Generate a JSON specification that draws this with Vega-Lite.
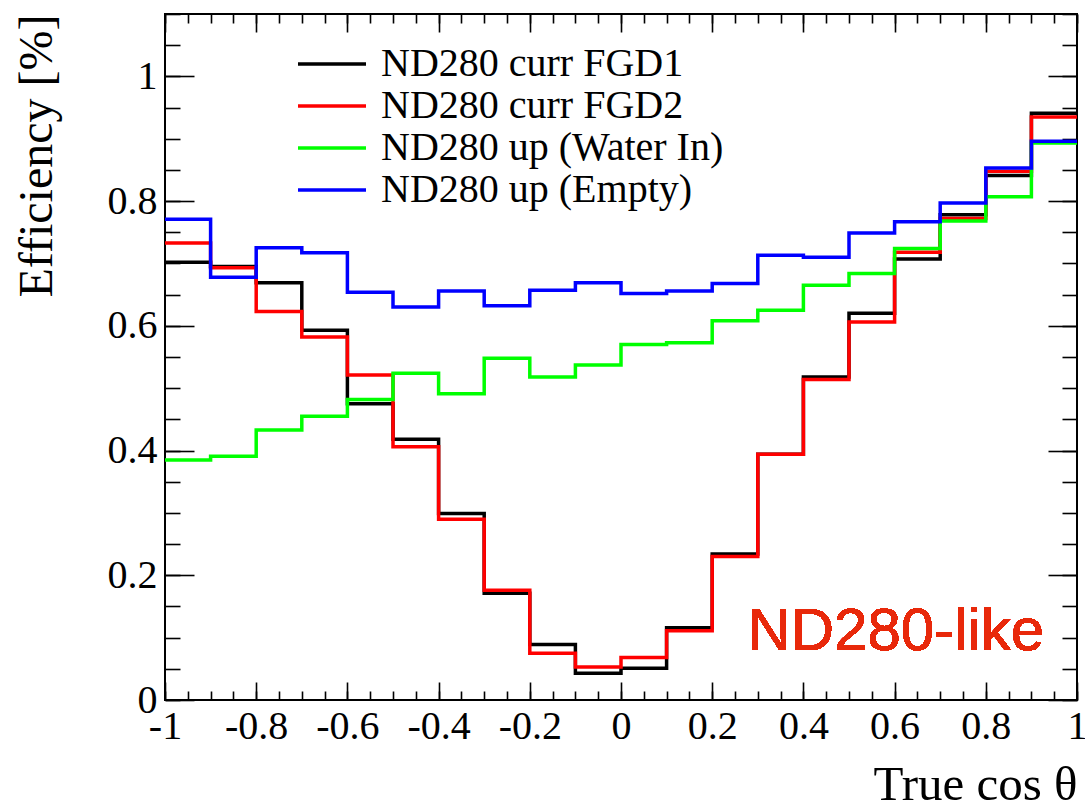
{
  "$schema": "https://vega.github.io/schema/vega-lite/v6.json",
  "width": 912,
  "height": 686,
  "autosize": {"type": "none"},
  "padding": {"left": 165, "top": 14, "right": 8, "bottom": 102},
  "background": "white",
  "config": {
    "view": {"stroke": "#000000", "strokeWidth": 2},
    "axis": {"grid": false, "domain": false, "labelFont": "Liberation Serif", "titleFont": "Liberation Serif", "labelColor": "#000", "titleColor": "#000", "titleFontWeight": "normal", "tickColor": "#000", "tickWidth": 1.6, "labelFlush": false, "labelOverlap": false}
  },
  "data": {"values": [
    {"cos": -1.0, "eff": 0.702, "series": "ND280 curr FGD1"},
    {"cos": -0.9, "eff": 0.695, "series": "ND280 curr FGD1"},
    {"cos": -0.8, "eff": 0.669, "series": "ND280 curr FGD1"},
    {"cos": -0.7, "eff": 0.593, "series": "ND280 curr FGD1"},
    {"cos": -0.6, "eff": 0.475, "series": "ND280 curr FGD1"},
    {"cos": -0.5, "eff": 0.418, "series": "ND280 curr FGD1"},
    {"cos": -0.4, "eff": 0.299, "series": "ND280 curr FGD1"},
    {"cos": -0.3, "eff": 0.171, "series": "ND280 curr FGD1"},
    {"cos": -0.2, "eff": 0.089, "series": "ND280 curr FGD1"},
    {"cos": -0.1, "eff": 0.043, "series": "ND280 curr FGD1"},
    {"cos": 0.0, "eff": 0.051, "series": "ND280 curr FGD1"},
    {"cos": 0.1, "eff": 0.116, "series": "ND280 curr FGD1"},
    {"cos": 0.2, "eff": 0.234, "series": "ND280 curr FGD1"},
    {"cos": 0.3, "eff": 0.394, "series": "ND280 curr FGD1"},
    {"cos": 0.4, "eff": 0.518, "series": "ND280 curr FGD1"},
    {"cos": 0.5, "eff": 0.620, "series": "ND280 curr FGD1"},
    {"cos": 0.6, "eff": 0.707, "series": "ND280 curr FGD1"},
    {"cos": 0.7, "eff": 0.778, "series": "ND280 curr FGD1"},
    {"cos": 0.8, "eff": 0.841, "series": "ND280 curr FGD1"},
    {"cos": 0.9, "eff": 0.941, "series": "ND280 curr FGD1"},
    {"cos": 1.0, "eff": 0.941, "series": "ND280 curr FGD1"},
    {"cos": -1.0, "eff": 0.733, "series": "ND280 curr FGD2"},
    {"cos": -0.9, "eff": 0.693, "series": "ND280 curr FGD2"},
    {"cos": -0.8, "eff": 0.623, "series": "ND280 curr FGD2"},
    {"cos": -0.7, "eff": 0.582, "series": "ND280 curr FGD2"},
    {"cos": -0.6, "eff": 0.521, "series": "ND280 curr FGD2"},
    {"cos": -0.5, "eff": 0.406, "series": "ND280 curr FGD2"},
    {"cos": -0.4, "eff": 0.290, "series": "ND280 curr FGD2"},
    {"cos": -0.3, "eff": 0.176, "series": "ND280 curr FGD2"},
    {"cos": -0.2, "eff": 0.075, "series": "ND280 curr FGD2"},
    {"cos": -0.1, "eff": 0.053, "series": "ND280 curr FGD2"},
    {"cos": 0.0, "eff": 0.068, "series": "ND280 curr FGD2"},
    {"cos": 0.1, "eff": 0.111, "series": "ND280 curr FGD2"},
    {"cos": 0.2, "eff": 0.230, "series": "ND280 curr FGD2"},
    {"cos": 0.3, "eff": 0.394, "series": "ND280 curr FGD2"},
    {"cos": 0.4, "eff": 0.514, "series": "ND280 curr FGD2"},
    {"cos": 0.5, "eff": 0.606, "series": "ND280 curr FGD2"},
    {"cos": 0.6, "eff": 0.718, "series": "ND280 curr FGD2"},
    {"cos": 0.7, "eff": 0.772, "series": "ND280 curr FGD2"},
    {"cos": 0.8, "eff": 0.848, "series": "ND280 curr FGD2"},
    {"cos": 0.9, "eff": 0.935, "series": "ND280 curr FGD2"},
    {"cos": 1.0, "eff": 0.935, "series": "ND280 curr FGD2"},
    {"cos": -1.0, "eff": 0.385, "series": "ND280 up (Water In)"},
    {"cos": -0.9, "eff": 0.391, "series": "ND280 up (Water In)"},
    {"cos": -0.8, "eff": 0.433, "series": "ND280 up (Water In)"},
    {"cos": -0.7, "eff": 0.455, "series": "ND280 up (Water In)"},
    {"cos": -0.6, "eff": 0.482, "series": "ND280 up (Water In)"},
    {"cos": -0.5, "eff": 0.524, "series": "ND280 up (Water In)"},
    {"cos": -0.4, "eff": 0.491, "series": "ND280 up (Water In)"},
    {"cos": -0.3, "eff": 0.548, "series": "ND280 up (Water In)"},
    {"cos": -0.2, "eff": 0.518, "series": "ND280 up (Water In)"},
    {"cos": -0.1, "eff": 0.537, "series": "ND280 up (Water In)"},
    {"cos": 0.0, "eff": 0.570, "series": "ND280 up (Water In)"},
    {"cos": 0.1, "eff": 0.573, "series": "ND280 up (Water In)"},
    {"cos": 0.2, "eff": 0.608, "series": "ND280 up (Water In)"},
    {"cos": 0.3, "eff": 0.625, "series": "ND280 up (Water In)"},
    {"cos": 0.4, "eff": 0.665, "series": "ND280 up (Water In)"},
    {"cos": 0.5, "eff": 0.684, "series": "ND280 up (Water In)"},
    {"cos": 0.6, "eff": 0.724, "series": "ND280 up (Water In)"},
    {"cos": 0.7, "eff": 0.768, "series": "ND280 up (Water In)"},
    {"cos": 0.8, "eff": 0.807, "series": "ND280 up (Water In)"},
    {"cos": 0.9, "eff": 0.893, "series": "ND280 up (Water In)"},
    {"cos": 1.0, "eff": 0.893, "series": "ND280 up (Water In)"},
    {"cos": -1.0, "eff": 0.771, "series": "ND280 up (Empty)"},
    {"cos": -0.9, "eff": 0.678, "series": "ND280 up (Empty)"},
    {"cos": -0.8, "eff": 0.725, "series": "ND280 up (Empty)"},
    {"cos": -0.7, "eff": 0.717, "series": "ND280 up (Empty)"},
    {"cos": -0.6, "eff": 0.654, "series": "ND280 up (Empty)"},
    {"cos": -0.5, "eff": 0.630, "series": "ND280 up (Empty)"},
    {"cos": -0.4, "eff": 0.656, "series": "ND280 up (Empty)"},
    {"cos": -0.3, "eff": 0.632, "series": "ND280 up (Empty)"},
    {"cos": -0.2, "eff": 0.657, "series": "ND280 up (Empty)"},
    {"cos": -0.1, "eff": 0.669, "series": "ND280 up (Empty)"},
    {"cos": 0.0, "eff": 0.652, "series": "ND280 up (Empty)"},
    {"cos": 0.1, "eff": 0.656, "series": "ND280 up (Empty)"},
    {"cos": 0.2, "eff": 0.668, "series": "ND280 up (Empty)"},
    {"cos": 0.3, "eff": 0.713, "series": "ND280 up (Empty)"},
    {"cos": 0.4, "eff": 0.710, "series": "ND280 up (Empty)"},
    {"cos": 0.5, "eff": 0.749, "series": "ND280 up (Empty)"},
    {"cos": 0.6, "eff": 0.767, "series": "ND280 up (Empty)"},
    {"cos": 0.7, "eff": 0.797, "series": "ND280 up (Empty)"},
    {"cos": 0.8, "eff": 0.853, "series": "ND280 up (Empty)"},
    {"cos": 0.9, "eff": 0.896, "series": "ND280 up (Empty)"},
    {"cos": 1.0, "eff": 0.896, "series": "ND280 up (Empty)"}
  ]},
  "resolve": {"axis": {"x": "independent", "y": "independent"}},
  "layer": [
    {
      "mark": {"type": "line", "interpolate": "step-after", "strokeWidth": 3.5, "strokeCap": "butt", "strokeJoin": "miter", "clip": true},
      "encoding": {
        "x": {"field": "cos", "type": "quantitative", "scale": {"domain": [-1, 1], "nice": false, "zero": false},
          "axis": {"orient": "bottom", "values": [-1, -0.8, -0.6, -0.4, -0.2, 0, 0.2, 0.4, 0.6, 0.8, 1], "labelExpr": "'' + datum.value", "ticks": false, "labelFontSize": 40, "labelPadding": 6, "title": "True cos θ", "titleFontSize": 49, "titleAnchor": "end", "titleAlign": "right", "titlePadding": 14}},
        "y": {"field": "eff", "type": "quantitative", "scale": {"domain": [0, 1.1], "nice": false, "zero": false},
          "axis": {"orient": "left", "values": [0, 0.2, 0.4, 0.6, 0.8, 1], "labelExpr": "'' + datum.value", "ticks": false, "labelFontSize": 40, "labelPadding": 8, "title": "Efficiency [%]", "titleFontSize": 48, "titleAnchor": "end", "titlePadding": 46}},
        "color": {"field": "series", "type": "nominal", "sort": null,
          "scale": {"domain": ["ND280 curr FGD1", "ND280 curr FGD2", "ND280 up (Water In)", "ND280 up (Empty)"], "range": ["#000000", "#ff0000", "#00ff00", "#0000ff"]},
          "legend": {"title": null, "orient": "none", "legendX": 145, "legendY": 28, "padding": 0, "symbolType": "M-1.7,0H1.7", "symbolSize": 1600, "symbolStrokeWidth": 3.5, "labelOffset": 27, "labelFont": "Liberation Serif", "labelFontSize": 40, "labelColor": "#000", "labelLimit": 600, "rowPadding": 0}}
      }
    },
    {
      "mark": {"type": "point", "opacity": 0},
      "encoding": {
        "x": {"field": "cos", "type": "quantitative", "axis": {"orient": "bottom", "values": [-1, -0.8, -0.6, -0.4, -0.2, 0, 0.2, 0.4, 0.6, 0.8, 1], "labels": false, "title": null, "tickSize": -18}},
        "y": {"field": "eff", "type": "quantitative", "axis": {"orient": "left", "values": [0, 0.2, 0.4, 0.6, 0.8, 1], "labels": false, "title": null, "tickSize": -29}}
      }
    },
    {
      "mark": {"type": "point", "opacity": 0},
      "encoding": {
        "x": {"field": "cos", "type": "quantitative", "axis": {"orient": "bottom", "values": [-1, -0.95, -0.9, -0.85, -0.8, -0.75, -0.7, -0.65, -0.6, -0.55, -0.5, -0.45, -0.4, -0.35, -0.3, -0.25, -0.2, -0.15, -0.1, -0.05, 0, 0.05, 0.1, 0.15, 0.2, 0.25, 0.3, 0.35, 0.4, 0.45, 0.5, 0.55, 0.6, 0.65, 0.7, 0.75, 0.8, 0.85, 0.9, 0.95, 1], "labels": false, "title": null, "tickSize": -9}},
        "y": {"field": "eff", "type": "quantitative", "axis": {"orient": "left", "values": [0, 0.05, 0.1, 0.15, 0.2, 0.25, 0.3, 0.35, 0.4, 0.45, 0.5, 0.55, 0.6, 0.65, 0.7, 0.75, 0.8, 0.85, 0.9, 0.95, 1, 1.05, 1.1], "labels": false, "title": null, "tickSize": -15}}
      }
    },
    {
      "mark": {"type": "point", "opacity": 0},
      "encoding": {
        "x": {"field": "cos", "type": "quantitative", "axis": {"orient": "top", "values": [-1, -0.8, -0.6, -0.4, -0.2, 0, 0.2, 0.4, 0.6, 0.8, 1], "labels": false, "title": null, "tickSize": -18}},
        "y": {"field": "eff", "type": "quantitative", "axis": {"orient": "right", "values": [0, 0.2, 0.4, 0.6, 0.8, 1], "labels": false, "title": null, "tickSize": -29}}
      }
    },
    {
      "mark": {"type": "point", "opacity": 0},
      "encoding": {
        "x": {"field": "cos", "type": "quantitative", "axis": {"orient": "top", "values": [-1, -0.95, -0.9, -0.85, -0.8, -0.75, -0.7, -0.65, -0.6, -0.55, -0.5, -0.45, -0.4, -0.35, -0.3, -0.25, -0.2, -0.15, -0.1, -0.05, 0, 0.05, 0.1, 0.15, 0.2, 0.25, 0.3, 0.35, 0.4, 0.45, 0.5, 0.55, 0.6, 0.65, 0.7, 0.75, 0.8, 0.85, 0.9, 0.95, 1], "labels": false, "title": null, "tickSize": -9}},
        "y": {"field": "eff", "type": "quantitative", "axis": {"orient": "right", "values": [0, 0.05, 0.1, 0.15, 0.2, 0.25, 0.3, 0.35, 0.4, 0.45, 0.5, 0.55, 0.6, 0.65, 0.7, 0.75, 0.8, 0.85, 0.9, 0.95, 1, 1.05, 1.1], "labels": false, "title": null, "tickSize": -15}}
      }
    },
    {
      "mark": {"type": "text", "text": "ND280-like", "font": "Liberation Sans", "fontSize": 60, "color": "#e8290b", "align": "right", "baseline": "alphabetic"},
      "encoding": {
        "x": {"datum": 0.928, "type": "quantitative", "axis": null},
        "y": {"datum": 0.08, "type": "quantitative", "axis": null}
      }
    }
  ]
}
